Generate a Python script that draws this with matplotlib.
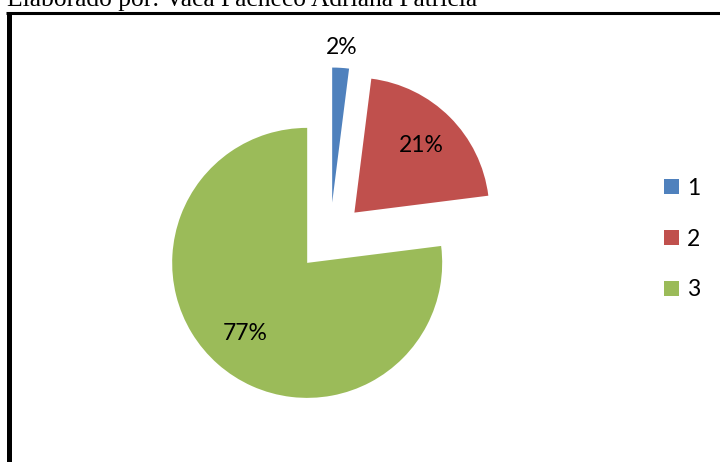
import matplotlib
matplotlib.use('Agg')
import matplotlib.pyplot as plt
from matplotlib.lines import Line2D
import numpy as np

# data
categories = ['1', '2', '3']
shares = [2, 21, 77]
colors = ['#4F81BD', '#C0504D', '#9BBB59']
caption = 'Elaborado por: Vaca Pacheco Adriana Patricia'

W, H = 720, 462
fig = plt.figure(figsize=(W / 100, H / 100), dpi=100)
ax = fig.add_axes([0, 0, 1, 1])

# pie in pixel-like data coords (y up)
R = 135
cx, cy = 330, H - 237
expl = 34.5
wedges, texts, pcts = ax.pie(shares, colors=colors, startangle=90, counterclock=False,
                             radius=R, center=(cx, cy), explode=[expl] * 3,
                             autopct='%1.0f%%', pctdistance=0.7,
                             textprops=dict(family='Lato', fontsize=16.5, color='black'))
ax.set_xlim(0, W)
ax.set_ylim(0, H)
ax.set_aspect('equal')
ax.axis('off')

# small slice label sits outside the wedge
w = wedges[0]
thm = np.deg2rad((w.theta1 + w.theta2) / 2)
ax0 = cx + expl * np.cos(thm)
ay0 = cy + expl * np.sin(thm)
pcts[0].set_position((ax0 + 1.15 * R * np.cos(thm), ay0 + 1.15 * R * np.sin(thm)))

leg = ax.legend(wedges, categories, loc='center left', bbox_to_anchor=(664, H - 239),
                bbox_transform=ax.transData, frameon=False, borderpad=0, borderaxespad=0,
                handlelength=0.66, handleheight=0.66, handletextpad=0.35,
                labelspacing=1.3, prop=dict(family='Lato', size=16.5))

# frame of the chart box (only top and left visible)
fig.add_artist(Line2D([6 / W, 1], [1 - 13 / H, 1 - 13 / H], transform=fig.transFigure,
                      color='black', lw=2.2, solid_capstyle='butt'))
fig.add_artist(Line2D([8.5 / W, 8.5 / W], [0, 1 - 11.5 / H], transform=fig.transFigure,
                      color='black', lw=3.6, solid_capstyle='butt'))

fig.text(7 / W, 1 - 6 / H, caption, family='Liberation Serif', fontsize=18.4,
         va='baseline', ha='left')

fig.savefig('out.png', dpi=100)
